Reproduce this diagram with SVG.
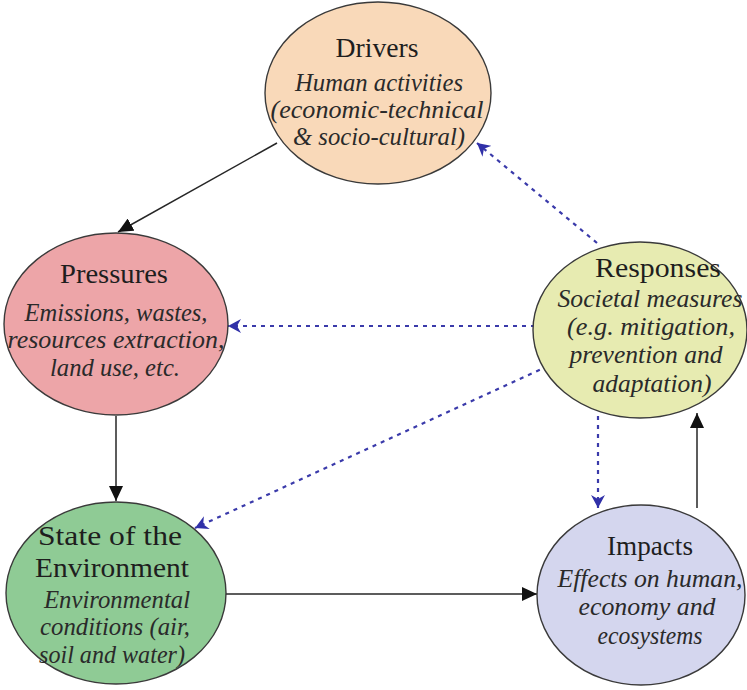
<svg xmlns="http://www.w3.org/2000/svg" width="747" height="690" viewBox="0 0 747 690">
  <style>
    .node { stroke: #3a3a3a; stroke-width: 1.4; }
    .title { font-family: "Liberation Serif", "Times New Roman", serif; font-size: 28px; fill: #1e1e1e; text-anchor: middle; }
    .body { font-family: "Liberation Serif", "Times New Roman", serif; font-size: 25px; font-style: italic; fill: #2a2a2a; text-anchor: middle; }
    .solid { stroke: #262626; stroke-width: 1.5; fill: none; }
    .dashed { stroke: #3a3aaa; stroke-width: 2.2; stroke-dasharray: 4 5; fill: none; }
  </style>
  <defs>
    <marker id="arrowSolid" markerUnits="userSpaceOnUse" markerWidth="16" markerHeight="14" refX="15" refY="7" orient="auto">
      <path d="M0,0 L15,7 L0,14 z" fill="#111"/>
    </marker>
    <marker id="arrowDashed" markerUnits="userSpaceOnUse" markerWidth="14" markerHeight="14" refX="13" refY="7" orient="auto">
      <path d="M0,0 L13,7 L0,14 L4,7 z" fill="#3030a8"/>
    </marker>
  </defs>

  <rect width="747" height="690" fill="#ffffff"/>

  <!-- connectors: solid = causal chain, dashed blue = responses feedback -->
  <g id="connectors">
    <line class="solid" x1="277" y1="143" x2="118" y2="232" marker-end="url(#arrowSolid)"/>
    <line class="solid" x1="116" y1="416" x2="116" y2="501" marker-end="url(#arrowSolid)"/>
    <line class="solid" x1="225" y1="594" x2="537" y2="594" marker-end="url(#arrowSolid)"/>
    <line class="solid" x1="697" y1="508" x2="697" y2="413" marker-end="url(#arrowSolid)"/>
    <line class="dashed" x1="597" y1="243" x2="477" y2="143" marker-end="url(#arrowDashed)"/>
    <line class="dashed" x1="535" y1="326" x2="228" y2="326" marker-end="url(#arrowDashed)"/>
    <line class="dashed" x1="548" y1="366" x2="195" y2="528" marker-end="url(#arrowDashed)"/>
    <line class="dashed" x1="598" y1="416" x2="598" y2="508" marker-end="url(#arrowDashed)"/>
  </g>

  <g id="drivers">
    <ellipse class="node" cx="378" cy="93" rx="113" ry="91" fill="#f9d9b9"/>
    <text class="title" x="377" y="57" textLength="83" lengthAdjust="spacingAndGlyphs">Drivers</text>
    <text class="body" x="379" y="91" textLength="168" lengthAdjust="spacingAndGlyphs">Human activities</text>
    <text class="body" x="377" y="118" textLength="213" lengthAdjust="spacingAndGlyphs">(economic-technical</text>
    <text class="body" x="379" y="145" textLength="172" lengthAdjust="spacingAndGlyphs">&amp; socio-cultural)</text>
  </g>

  <g id="pressures">
    <ellipse class="node" cx="116" cy="324" rx="112" ry="91" fill="#eda5a8"/>
    <text class="title" x="114" y="283" textLength="108" lengthAdjust="spacingAndGlyphs">Pressures</text>
    <text class="body" x="116" y="321" textLength="183" lengthAdjust="spacingAndGlyphs">Emissions, wastes,</text>
    <text class="body" x="116" y="348" textLength="217" lengthAdjust="spacingAndGlyphs">resources extraction,</text>
    <text class="body" x="115" y="376" textLength="130" lengthAdjust="spacingAndGlyphs">land use, etc.</text>
  </g>

  <g id="responses">
    <ellipse class="node" cx="640" cy="330" rx="107" ry="88" fill="#e7ebb1"/>
    <text class="title" x="658" y="277" textLength="126" lengthAdjust="spacingAndGlyphs">Responses</text>
    <text class="body" x="650" y="307" textLength="185" lengthAdjust="spacingAndGlyphs">Societal measures</text>
    <text class="body" x="651" y="335" textLength="168" lengthAdjust="spacingAndGlyphs">(e.g. mitigation,</text>
    <text class="body" x="646" y="363" textLength="153" lengthAdjust="spacingAndGlyphs">prevention and</text>
    <text class="body" x="652" y="392" textLength="119" lengthAdjust="spacingAndGlyphs">adaptation)</text>
  </g>

  <g id="state">
    <ellipse class="node" cx="116" cy="593" rx="110" ry="91" fill="#8fcb95"/>
    <text class="title" x="110" y="545" textLength="144" lengthAdjust="spacingAndGlyphs">State of the</text>
    <text class="title" x="112" y="577" textLength="154" lengthAdjust="spacingAndGlyphs">Environment</text>
    <text class="body" x="117" y="608" textLength="146" lengthAdjust="spacingAndGlyphs">Environmental</text>
    <text class="body" x="115" y="635" textLength="150" lengthAdjust="spacingAndGlyphs">conditions (air,</text>
    <text class="body" x="112" y="663" textLength="146" lengthAdjust="spacingAndGlyphs">soil and water)</text>
  </g>

  <g id="impacts">
    <ellipse class="node" cx="641" cy="595" rx="104" ry="90" fill="#d4d6ee"/>
    <text class="title" x="650" y="555" textLength="86" lengthAdjust="spacingAndGlyphs">Impacts</text>
    <text class="body" x="650" y="587" textLength="185" lengthAdjust="spacingAndGlyphs">Effects on human,</text>
    <text class="body" x="647" y="615" textLength="137" lengthAdjust="spacingAndGlyphs">economy and</text>
    <text class="body" x="650" y="644" textLength="105" lengthAdjust="spacingAndGlyphs">ecosystems</text>
  </g>
</svg>
